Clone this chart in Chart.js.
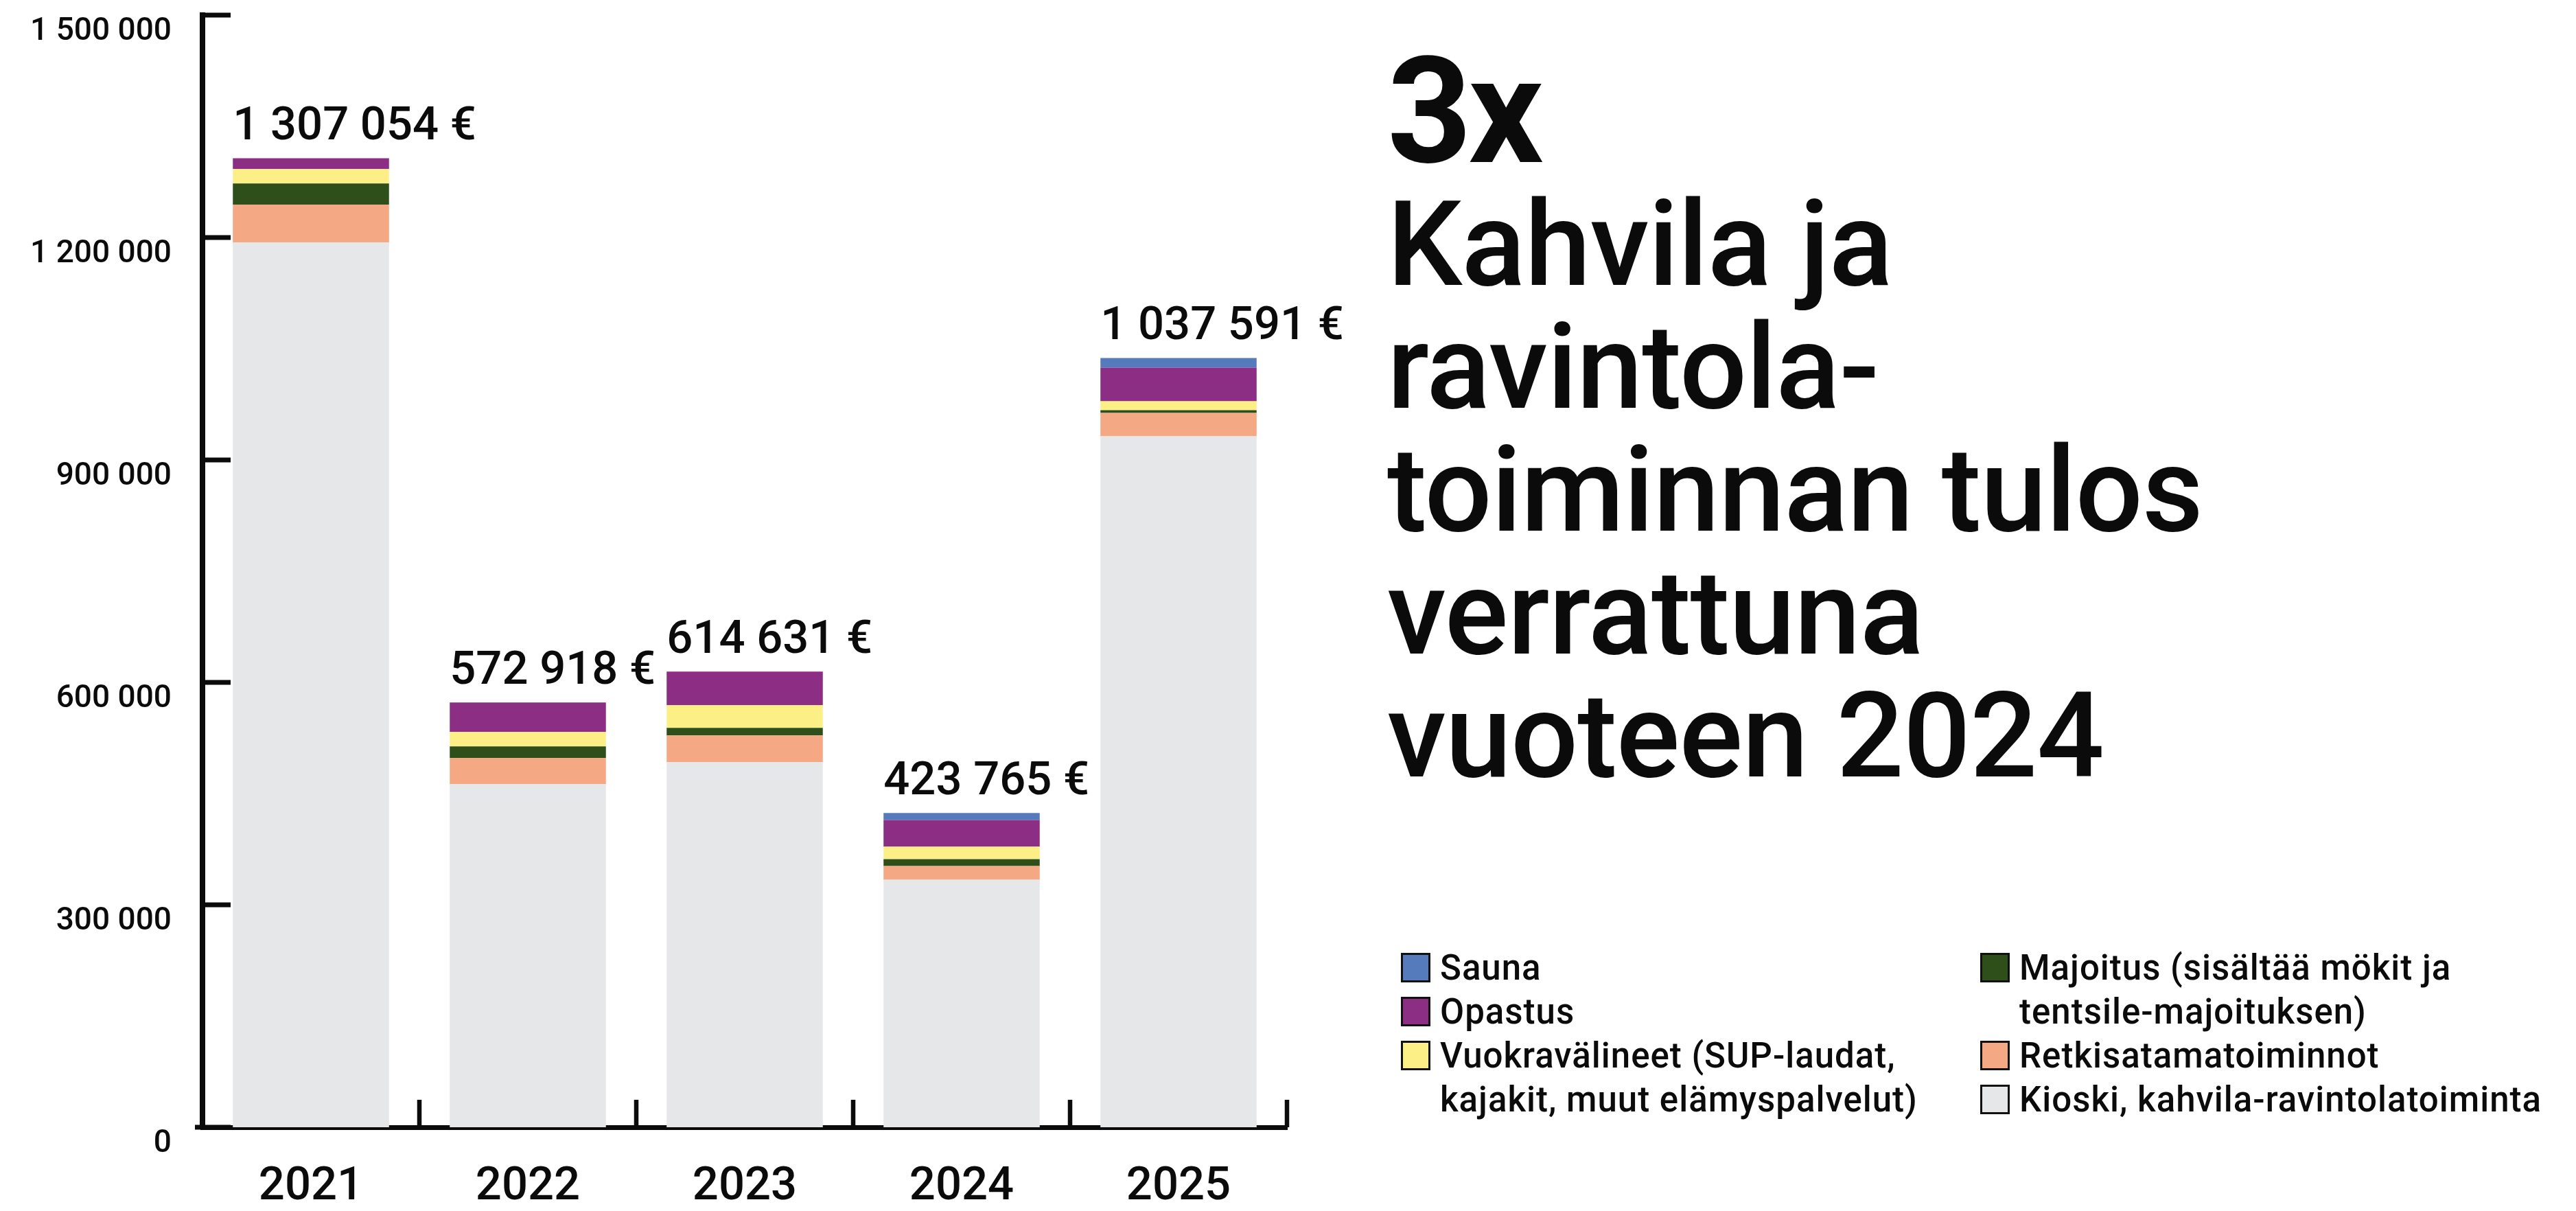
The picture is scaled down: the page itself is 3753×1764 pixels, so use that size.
<!DOCTYPE html>
<html lang="fi">
<head>
<meta charset="utf-8">
<title>Kahvila ja ravintolatoiminnan tulos</title>
<script src="https://cdn.jsdelivr.net/npm/chart.js@4.4.1/dist/chart.umd.min.js"></script>
<style>
  html, body { margin: 0; padding: 0; background: #fff; }
  body {
    width: 3753px; height: 1764px; position: relative; overflow: hidden;
    font-family: Roboto, 'Liberation Sans', sans-serif; color: #0b0b0b;
  }
  #chart-wrap { position: absolute; left: 0; top: 0; width: 1980px; height: 1764px; }
  .big { position: absolute; left: 2021px; top: 55px; font-size: 215px; line-height: 215px; font-weight: 700; letter-spacing: -5px; }
  .headline { position: absolute; left: 2021px; top: 267px; font-size: 173px; line-height: 179px; font-weight: 500; letter-spacing: -1px; }
  .legend { position: absolute; top: 1378px; }
  .legend-item { display: flex; align-items: flex-start; }
  .legend-box { width: 43px; height: 43px; box-sizing: border-box; border: 3px solid #111; margin-top: 10px; margin-right: 14px; flex: none; }
  .legend-text { font-size: 51px; line-height: 64px; font-weight: 500; letter-spacing: 1px; white-space: nowrap; }
</style>
</head>
<body>
<div id="chart-wrap"><canvas id="chart"></canvas></div>

<div class="big">3x</div>
<div class="headline">Kahvila ja<br>ravintola-<br>toiminnan tulos<br>verrattuna<br>vuoteen 2024</div>

<div class="legend" id="legend-left" style="left:2041px"></div>
<div class="legend" id="legend-right" style="left:2885px"></div>

<script>
// ─── Data ─────────────────────────────────────────────────────────────────────
const years = ['2021', '2022', '2023', '2024', '2025'];

// stack order bottom → top
const kioski   = [1193554, 462818, 492331, 333865, 931991];
const retki    = [50900, 35200, 36100, 18500, 31500];
const majoitus = [28400, 15700, 10200, 9300, 3700];
const vuokra   = [19400, 19400, 30600, 16700, 12000];
const opastus  = [14800, 39800, 45400, 36100, 45400];
const sauna    = [0, 0, 0, 9300, 13000];

const totals = [1307054, 572918, 614631, 423765, 1037591];
const yTicks = [0, 300000, 600000, 900000, 1200000, 1500000];

const seriesNames = [
  ['Kioski, kahvila-ravintolatoiminta'],
  ['Retkisatamatoiminnot'],
  ['Majoitus (sisältää mökit ja', 'tentsile-majoituksen)'],
  ['Vuokravälineet (SUP-laudat,', 'kajakit, muut elämyspalvelut)'],
  ['Opastus'],
  ['Sauna'],
];
const seriesColors = ['#e6e7e9', '#f4a883', '#2e4f1a', '#fcef86', '#8c2e84', '#557bbd'];
const seriesValues = [kioski, retki, majoitus, vuokra, opastus, sauna];

const INK = '#0b0b0b';
const FONT = 'Roboto, "Liberation Sans", sans-serif';

// "1 307 054" style numbers
const fmt = n => String(Math.round(n)).replace(/\B(?=(\d{3})+(?!\d))/g, ' ');

// ─── Plugins ──────────────────────────────────────────────────────────────────
// short inward ticks on both axes
const axisTicks = {
  id: 'axisTicks',
  beforeDatasetsDraw(chart) {
    const { ctx, chartArea, scales: { x, y } } = chart;
    ctx.save();
    ctx.fillStyle = INK;
    y.ticks.forEach(t => {
      const py = y.getPixelForValue(t.value);
      if (t.value === 0) ctx.fillRect(chartArea.left - 11, py - 3.5, 52, 7);
      else ctx.fillRect(chartArea.left - 3, py - 3.5, 44, 7);
    });
    const step = x.getPixelForValue(1) - x.getPixelForValue(0);
    years.forEach((_, i) => {
      const px = x.getPixelForValue(i) + step / 2;
      ctx.fillRect(px - 3.25, chartArea.bottom - 40, 6.5, 40);
    });
    ctx.restore();
  },
};

// total value above each stack, left aligned with the bar
const totalLabels = {
  id: 'totalLabels',
  afterDatasetsDraw(chart) {
    const { ctx } = chart;
    const top = chart.getDatasetMeta(chart.data.datasets.length - 1);
    ctx.save();
    ctx.fillStyle = INK;
    ctx.font = `500 67px ${FONT}`;
    ctx.textAlign = 'left';
    ctx.textBaseline = 'alphabetic';
    top.data.forEach((bar, i) => {
      ctx.fillText(`${fmt(totals[i])} €`, bar.x - bar.width / 2, bar.y - 27);
    });
    ctx.restore();
  },
};

// ─── Chart ────────────────────────────────────────────────────────────────────
const ctx = document.getElementById('chart').getContext('2d');
new Chart(ctx, {
  type: 'bar',
  data: {
    labels: years,
    datasets: seriesValues.map((vals, i) => ({
      label: seriesNames[i].join(' '),
      data: vals,
      backgroundColor: seriesColors[i],
      borderWidth: 0,
      barPercentage: 0.72,
      categoryPercentage: 1,
    })),
  },
  options: {
    responsive: true, maintainAspectRatio: false,
    animation: false,
    layout: { padding: { top: 22, right: 105, left: 0, bottom: 0 } },
    plugins: { legend: { display: false }, tooltip: { enabled: false } },
    scales: {
      x: {
        stacked: true,
        grid: { display: false, drawTicks: false },
        border: { display: true, color: INK, width: 7 },
        ticks: { color: INK, font: { family: FONT, size: 67, weight: '500' }, padding: 48 },
        afterFit(scale) {
          scale.height = 122;
          scale.paddingLeft = 0; scale.paddingRight = 0;
        },
      },
      y: {
        stacked: true,
        min: 0, max: 1500000,
        afterBuildTicks(scale) { scale.ticks = yTicks.map(v => ({ value: v })); },
        grid: { display: false, drawTicks: false },
        border: { display: true, color: INK, width: 8 },
        ticks: {
          color: INK, font: { family: FONT, size: 46, weight: '500' }, padding: 45, labelOffset: 24,
          callback: v => fmt(v),
        },
        afterFit(scale) {
          scale.width = 295;
          scale.paddingTop = 0; scale.paddingBottom = 0;
        },
      },
    },
  },
  plugins: [axisTicks, totalLabels],
});

// ─── Legend (HTML, two columns) ───────────────────────────────────────────────
const order = [5, 4, 3, 2, 1, 0];
order.forEach((idx, k) => {
  const col = document.getElementById(k < 3 ? 'legend-left' : 'legend-right');
  const item = document.createElement('div');
  item.className = 'legend-item';
  item.innerHTML = `<span class="legend-box" style="background:${seriesColors[idx]}"></span>
    <span class="legend-text">${seriesNames[idx].join('<br>')}</span>`;
  col.appendChild(item);
});
</script>
</body>
</html>
